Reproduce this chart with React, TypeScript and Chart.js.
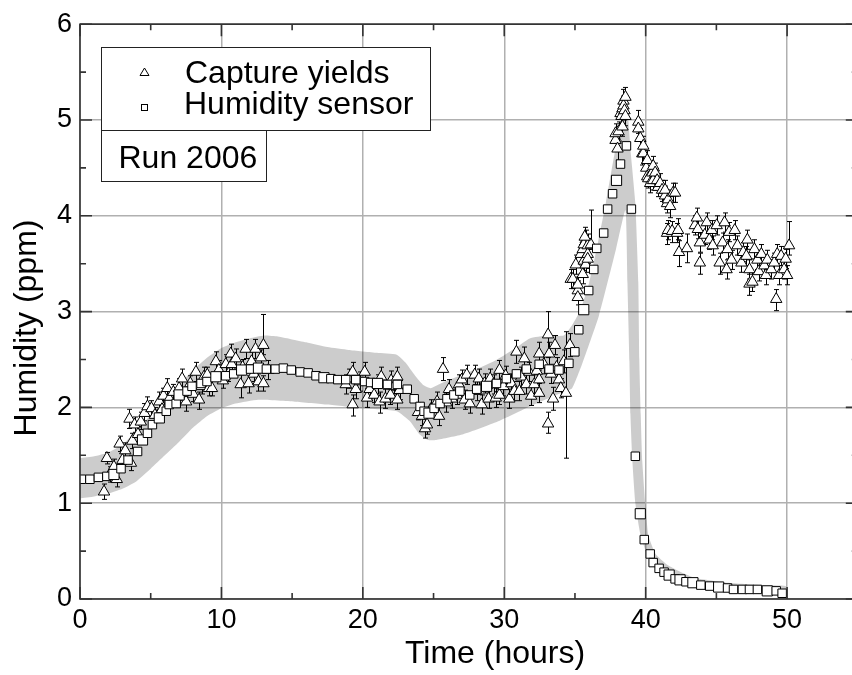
import React, { useEffect, useRef } from 'react';
import { Chart, registerables } from 'chart.js';

Chart.register(...registerables);

// ---------- data ----------
const X_TICKS = [0, 10, 20, 30, 40, 50];
const X_MINOR = [5, 15, 25, 35, 45];
const Y_TICKS = [0, 1, 2, 3, 4, 5, 6];
const Y_MINOR = [0.5, 1.5, 2.5, 3.5, 4.5, 5.5];

// Capture yields: [time, humidity, error down, error up]
const captureYields: number[][] = [
  [1.7, 1.12, 0.08, 0.08], [1.9, 1.47, 0.06, 0.06], [2.1, 1.3, 0.08, 0.08], [2.4, 1.38, 0.08, 0.08],
  [2.6, 1.25, 0.08, 0.08], [2.8, 1.62, 0.08, 0.08], [3.0, 1.45, 0.06, 0.08], [3.2, 1.55, 0.08, 0.08],
  [3.5, 1.88, 0.1, 0.1], [3.6, 1.42, 0.08, 0.08], [3.7, 1.65, 0.08, 0.08], [3.86, 1.82, 0.08, 0.08],
  [4.1, 1.72, 0.08, 0.08], [4.3, 1.85, 0.08, 0.1], [4.56, 1.94, 0.08, 0.1], [4.77, 2.01, 0.1, 0.1],
  [5.05, 1.99, 0.08, 0.08], [5.3, 1.92, 0.08, 0.08], [5.61, 2.06, 0.08, 0.1], [5.8, 1.98, 0.08, 0.08],
  [5.9, 2.12, 0.08, 0.08], [6.17, 2.2, 0.1, 0.1], [6.31, 2.09, 0.08, 0.08], [6.6, 2.16, 0.08, 0.08],
  [6.9, 2.08, 0.08, 0.08], [7.01, 2.2, 0.1, 0.1], [7.22, 2.3, 0.1, 0.1], [7.5, 2.06, 0.1, 0.08],
  [7.6, 2.15, 0.08, 0.08], [7.8, 2.25, 0.08, 0.08], [8.0, 2.14, 0.08, 0.08], [8.2, 2.37, 0.1, 0.1],
  [8.42, 2.08, 0.1, 0.08], [8.6, 2.22, 0.08, 0.08], [8.77, 2.32, 0.08, 0.1], [9.0, 2.34, 0.08, 0.08],
  [9.12, 2.2, 0.08, 0.08], [9.33, 2.2, 0.08, 0.1], [9.61, 2.48, 0.1, 0.1], [9.82, 2.39, 0.08, 0.1],
  [10.1, 2.28, 0.08, 0.08], [10.31, 2.45, 0.1, 0.1], [10.5, 2.35, 0.08, 0.08], [10.66, 2.56, 0.1, 0.1],
  [10.73, 2.45, 0.1, 0.08], [11.01, 2.51, 0.1, 0.1], [11.36, 2.24, 0.14, 0.1], [11.5, 2.42, 0.08, 0.08],
  [11.71, 2.61, 0.1, 0.1], [11.92, 2.25, 0.1, 0.08], [12.13, 2.48, 0.1, 0.1], [12.3, 2.35, 0.08, 0.08],
  [12.41, 2.61, 0.1, 0.1], [12.62, 2.27, 0.1, 0.08], [12.8, 2.52, 0.08, 0.08], [12.97, 2.65, 0.1, 0.32],
  [12.97, 2.25, 0.08, 0.08], [13.32, 2.39, 0.1, 0.1],
  [18.79, 2.24, 0.1, 0.1], [19.0, 2.3, 0.1, 0.1], [19.28, 2.37, 0.1, 0.1], [19.28, 2.03, 0.12, 0.1],
  [19.5, 2.19, 0.1, 0.1], [19.78, 2.27, 0.1, 0.1], [20.13, 2.37, 0.1, 0.1], [20.3, 2.1, 0.1, 0.1],
  [20.48, 2.19, 0.1, 0.1], [20.8, 2.13, 0.08, 0.1], [21.04, 2.24, 0.1, 0.1], [21.18, 2.06, 0.12, 0.1],
  [21.3, 2.32, 0.1, 0.1], [21.6, 2.09, 0.1, 0.1], [21.95, 2.13, 0.1, 0.1], [22.0, 2.28, 0.1, 0.1],
  [22.2, 2.22, 0.08, 0.1], [22.44, 2.32, 0.1, 0.1], [22.44, 2.08, 0.1, 0.1], [22.6, 2.18, 0.1, 0.1],
  [23.9, 1.95, 0.08, 0.1], [24.19, 1.91, 0.1, 0.1], [24.4, 1.78, 0.1, 0.1], [24.54, 1.82, 0.1, 0.1],
  [24.8, 1.98, 0.08, 0.1], [25.25, 2.06, 0.1, 0.1], [25.39, 1.91, 0.1, 0.1], [25.67, 2.4, 0.12, 0.12],
  [25.9, 2.05, 0.1, 0.1], [26.09, 2.19, 0.1, 0.1], [26.3, 2.09, 0.1, 0.1], [26.65, 2.13, 0.1, 0.1],
  [26.8, 2.24, 0.1, 0.1], [27.0, 2.29, 0.1, 0.1], [27.2, 2.08, 0.1, 0.1], [27.35, 2.34, 0.1, 0.1],
  [27.56, 2.04, 0.1, 0.1], [27.91, 2.34, 0.1, 0.1], [28.05, 2.17, 0.1, 0.1], [28.2, 2.3, 0.1, 0.1],
  [28.4, 2.03, 0.1, 0.1], [28.61, 2.25, 0.1, 0.1], [28.89, 2.09, 0.1, 0.1], [29.0, 2.3, 0.1, 0.1],
  [29.24, 2.24, 0.1, 0.1], [29.4, 2.1, 0.1, 0.1], [29.66, 2.39, 0.1, 0.1], [29.66, 2.13, 0.1, 0.1],
  [29.94, 2.22, 0.1, 0.1], [30.1, 2.33, 0.1, 0.1], [30.36, 2.09, 0.1, 0.1], [30.5, 2.25, 0.1, 0.1],
  [30.72, 2.17, 0.1, 0.1], [30.86, 2.58, 0.12, 0.12], [31.07, 2.17, 0.1, 0.1], [31.2, 2.32, 0.1, 0.1],
  [31.42, 2.51, 0.12, 0.12], [31.56, 2.24, 0.1, 0.1], [31.77, 2.37, 0.1, 0.1], [31.9, 2.12, 0.1, 0.1],
  [32.12, 2.24, 0.1, 0.1], [32.3, 2.38, 0.1, 0.1], [32.47, 2.15, 0.1, 0.1], [32.47, 2.56, 0.12, 0.12],
  [32.47, 2.29, 0.1, 0.1], [32.8, 2.45, 0.1, 0.1], [33.1, 2.76, 0.24, 0.24], [33.1, 1.83, 0.1, 0.12],
  [33.17, 2.56, 0.12, 0.12], [33.3, 2.35, 0.1, 0.1], [33.45, 2.09, 0.12, 0.12], [33.59, 2.65, 0.1, 0.1],
  [33.7, 2.42, 0.1, 0.1], [33.87, 2.29, 0.1, 0.1], [34.0, 2.2, 0.1, 0.1], [34.22, 2.48, 0.12, 0.12],
  [34.36, 2.15, 0.68, 0.64], [34.64, 2.65, 0.12, 0.12],
  [34.7, 3.34, 0.1, 0.1], [34.85, 3.34, 0.1, 0.1], [35.06, 3.49, 0.1, 0.1], [35.2, 3.22, 0.08, 0.1],
  [35.2, 3.28, 0.08, 0.08], [35.2, 3.15, 0.08, 0.08], [35.41, 3.6, 0.1, 0.1], [35.55, 3.39, 0.1, 0.1],
  [35.55, 3.65, 0.1, 0.1], [35.62, 3.53, 0.1, 0.1], [35.76, 3.49, 0.08, 0.1], [35.76, 3.75, 0.1, 0.1],
  [35.9, 3.6, 0.1, 0.1], [35.9, 3.55, 0.1, 0.1], [35.62, 3.7, 0.1, 0.1], [35.9, 3.69, 0.1, 0.12],
  [36.12, 3.7, 0.05, 0.36], [35.69, 3.78, 0.1, 0.1],
  [37.87, 4.79, 0.1, 0.1], [37.87, 4.86, 0.1, 0.1], [38.01, 4.7, 0.12, 0.1], [38.08, 4.88, 0.1, 0.1],
  [38.22, 5.07, 0.1, 0.1], [38.29, 5.04, 0.12, 0.1], [38.36, 5.12, 0.1, 0.1], [38.36, 4.93, 0.1, 0.1],
  [38.43, 5.2, 0.1, 0.12], [38.43, 5.15, 0.1, 0.1], [38.5, 5.1, 0.1, 0.1], [38.57, 5.24, 0.1, 0.1],
  [38.57, 5.04, 0.1, 0.1],
  [39.48, 4.98, 0.12, 0.12], [39.48, 4.91, 0.1, 0.1], [39.62, 4.81, 0.1, 0.1], [39.76, 4.65, 0.12, 0.1],
  [39.83, 4.65, 0.1, 0.1], [39.83, 4.73, 0.1, 0.1], [40.04, 4.5, 0.1, 0.1], [40.11, 4.41, 0.1, 0.1],
  [40.11, 4.58, 0.1, 0.1], [40.18, 4.39, 0.1, 0.1], [40.32, 4.34, 0.1, 0.1], [40.46, 4.45, 0.1, 0.1],
  [40.53, 4.37, 0.1, 0.1], [40.53, 4.52, 0.1, 0.1], [40.67, 4.45, 0.1, 0.1], [40.81, 4.37, 0.1, 0.1],
  [40.88, 4.3, 0.1, 0.1], [41.02, 4.34, 0.1, 0.1], [41.16, 4.27, 0.12, 0.1], [41.37, 4.21, 0.1, 0.1],
  [41.37, 4.27, 0.1, 0.1], [41.51, 4.13, 0.1, 0.1], [41.58, 4.17, 0.1, 0.1], [41.73, 4.1, 0.12, 0.1],
  [41.94, 4.24, 0.1, 0.1], [42.08, 4.24, 0.1, 0.1], [41.51, 3.82, 0.12, 0.1], [41.58, 3.85, 0.1, 0.1],
  [41.87, 3.84, 0.12, 0.1], [42.22, 3.82, 0.1, 0.1], [42.29, 3.85, 0.1, 0.12], [42.36, 3.62, 0.15, 0.12],
  [42.92, 3.66, 0.15, 0.15],
  [43.48, 3.9, 0.1, 0.1], [43.62, 3.98, 0.1, 0.1], [43.69, 3.86, 0.1, 0.1], [43.83, 3.72, 0.1, 0.1],
  [43.83, 3.51, 0.12, 0.1], [44.18, 3.8, 0.1, 0.1], [44.32, 3.93, 0.1, 0.1], [44.5, 3.75, 0.1, 0.1],
  [44.67, 3.85, 0.1, 0.1], [44.74, 3.69, 0.1, 0.1], [45.02, 3.9, 0.1, 0.1], [45.23, 3.51, 0.12, 0.1],
  [45.44, 3.72, 0.1, 0.1], [45.58, 3.93, 0.1, 0.1], [45.72, 3.44, 0.1, 0.1], [45.79, 3.65, 0.1, 0.1],
  [45.9, 3.83, 0.1, 0.1], [46.07, 3.54, 0.1, 0.1], [46.3, 3.85, 0.1, 0.1], [46.49, 3.69, 0.1, 0.1],
  [46.77, 3.51, 0.1, 0.1], [46.9, 3.62, 0.1, 0.1], [47.12, 3.58, 0.1, 0.1], [47.19, 3.75, 0.1, 0.1],
  [47.34, 3.44, 0.1, 0.1], [47.34, 3.29, 0.12, 0.1], [47.55, 3.31, 0.1, 0.1], [47.69, 3.65, 0.1, 0.1],
  [47.9, 3.54, 0.1, 0.1], [48.0, 3.42, 0.1, 0.1], [48.18, 3.6, 0.1, 0.1], [48.39, 3.48, 0.1, 0.1],
  [48.5, 3.38, 0.1, 0.1], [48.6, 3.54, 0.1, 0.1], [48.88, 3.44, 0.1, 0.1], [49.09, 3.51, 0.1, 0.1],
  [49.23, 3.13, 0.12, 0.1], [49.3, 3.6, 0.1, 0.1], [49.44, 3.38, 0.1, 0.1], [49.58, 3.58, 0.1, 0.1],
  [49.79, 3.44, 0.1, 0.1], [49.9, 3.55, 0.1, 0.1], [50.0, 3.38, 0.1, 0.1], [50.14, 3.69, 0.1, 0.25],
];

// Humidity sensor: [time, humidity]
const humiditySensor: number[][] = [
  [0.1, 1.25], [0.7, 1.25], [1.3, 1.27], [1.9, 1.28], [2.4, 1.3], [2.9, 1.36], [3.4, 1.45],
  [4.07, 1.54], [4.42, 1.66], [4.77, 1.73], [5.12, 1.82], [5.61, 1.89], [6.1, 1.96], [6.31, 2.03],
  [6.8, 2.04], [7.01, 2.13], [7.57, 2.17], [7.92, 2.22], [8.56, 2.25], [8.98, 2.27], [9.61, 2.32],
  [10.31, 2.33], [10.87, 2.35], [11.43, 2.39], [12.06, 2.4], [12.62, 2.41], [13.18, 2.4], [13.81, 2.4],
  [14.38, 2.41], [14.94, 2.39], [15.57, 2.37], [16.13, 2.36], [16.69, 2.33], [17.25, 2.31], [17.74, 2.3],
  [18.23, 2.29], [18.79, 2.29], [19.5, 2.29], [20.13, 2.27], [20.55, 2.26], [21.04, 2.25], [21.74, 2.24],
  [22.44, 2.24], [23.14, 2.19], [23.63, 2.09], [24.05, 2.01], [24.33, 1.96], [24.68, 1.94], [25.04, 1.99],
  [25.46, 2.04], [25.95, 2.09], [26.44, 2.13], [26.86, 2.17], [27.56, 2.13], [28.05, 2.19], [28.75, 2.22],
  [29.45, 2.25], [30.15, 2.3], [30.86, 2.35], [31.56, 2.4], [32.47, 2.45], [33.17, 2.4], [33.87, 2.39],
  [34.57, 2.46], [34.99, 2.58], [35.27, 2.81], [35.62, 3.02], [35.97, 3.22], [36.33, 3.44], [36.54, 3.66],
  [37.03, 3.82], [37.31, 4.07], [37.66, 4.23], [37.94, 4.37], [38.22, 4.54], [38.64, 4.73], [38.99, 4.07],
  [39.27, 1.49], [39.62, 0.89], [39.9, 0.62], [40.32, 0.47], [40.53, 0.38], [40.95, 0.32], [41.3, 0.28],
  [41.66, 0.25], [42.08, 0.21], [42.43, 0.2], [42.85, 0.18], [43.34, 0.17], [43.9, 0.145], [44.53, 0.135],
  [45.16, 0.125], [45.79, 0.115], [46.21, 0.1], [46.84, 0.1], [47.34, 0.1], [47.9, 0.1], [48.6, 0.085],
  [49.23, 0.085], [49.65, 0.06],
];
// indices of the larger sensor squares (style)
const SENSOR_LARGE = [4, 8, 11, 15, 20, 23, 25, 33, 40, 47, 55, 66, 73, 78, 84, 86, 88, 91, 97];

// Model band edges: [time, humidity]
const bandUpper: number[][] = [
  [0, 1.47], [1, 1.49], [2, 1.53], [3, 1.61], [4, 1.76], [5, 1.92], [6, 2.08], [7, 2.24], [8, 2.39],
  [9, 2.52], [10, 2.62], [11, 2.68], [12, 2.72], [13, 2.75], [14, 2.74], [15, 2.71], [16, 2.68],
  [17.5, 2.63], [19, 2.6], [21, 2.57], [22.4, 2.55], [23, 2.47], [23.7, 2.33], [24.3, 2.23], [24.8, 2.2],
  [25.5, 2.25], [27, 2.34], [28.5, 2.43], [29.5, 2.5], [30.8, 2.62], [31.8, 2.72], [33, 2.75], [34.2, 2.75],
  [34.8, 2.86], [35.4, 3.02], [36, 3.3], [36.6, 3.7], [37.2, 4.15], [37.8, 4.65], [38.3, 5.02], [38.65, 5.2],
  [38.95, 4.65], [39.27, 4.13], [39.48, 3.3], [39.55, 2.5], [39.65, 1.93], [39.76, 1.44], [39.97, 1.0],
  [40.2, 0.66], [40.7, 0.47], [41.5, 0.36], [42.5, 0.28], [43.5, 0.22], [45.8, 0.17], [48.2, 0.145],
  [49.9, 0.135],
];
const bandLower: number[][] = [
  [0, 1.05], [1, 1.07], [2, 1.1], [3, 1.15], [4, 1.23], [5, 1.36], [6, 1.5], [7, 1.64], [8, 1.79],
  [9, 1.91], [10, 1.99], [11, 2.04], [12.6, 2.08], [15.2, 2.06], [17.5, 2.03], [20, 1.99], [22.4, 1.96],
  [23.3, 1.86], [24, 1.72], [24.6, 1.66], [25.2, 1.66], [27.1, 1.72], [29.5, 1.85], [31.8, 2.01],
  [33.2, 2.1], [34.2, 2.16], [34.8, 2.2], [35.5, 2.45], [36.7, 2.96], [37.9, 3.65], [38.57, 4.06],
  [38.71, 3.3], [38.85, 2.48], [38.92, 1.93], [39.06, 1.44], [39.27, 1.0], [39.62, 0.68], [40.0, 0.5],
  [40.46, 0.36], [41.0, 0.26], [42.0, 0.17], [43.5, 0.12], [45.8, 0.1], [49.9, 0.08],
];

const X_TITLE = 'Time (hours)';
const Y_TITLE = 'Humidity (ppm)';
const RUN_LABEL = 'Run 2006';

// ---------- styling ----------
const FONT = "'Liberation Sans', Arial, Helvetica, sans-serif";
const INK = '#000';
const FRAME = '#333';

const errorBars = {
  id: 'errorBars',
  beforeDatasetDraw(chart: any, args: any) {
    const ds = chart.data.datasets[args.index];
    if (!ds.errors) return;
    const { ctx, scales } = chart;
    const xs = scales.x, ys = scales.y;
    ctx.save();
    ctx.beginPath();
    ctx.rect(chart.chartArea.left, chart.chartArea.top, chart.chartArea.width, chart.chartArea.height);
    ctx.clip();
    ctx.strokeStyle = INK;
    ctx.lineWidth = 1;
    ctx.beginPath();
    ds.errors.forEach((e: number[]) => {
      const px = Math.round(xs.getPixelForValue(e[0])) + 0.5;
      const lo = ys.getPixelForValue(e[1] - e[2]);
      const hi = ys.getPixelForValue(e[1] + e[3]);
      ctx.moveTo(px, lo); ctx.lineTo(px, hi);
      ctx.moveTo(px - 2.5, hi); ctx.lineTo(px + 2.5, hi);
      ctx.moveTo(px - 2.5, lo); ctx.lineTo(px + 2.5, lo);
    });
    ctx.stroke();
    ctx.restore();
  },
};

const frame = {
  id: 'frame',
  afterDraw(chart: any) {
    const { ctx, chartArea: a, scales } = chart;
    const xs = scales.x, ys = scales.y;
    ctx.save();
    ctx.strokeStyle = FRAME;
    ctx.lineWidth = 1.6;
    ctx.strokeRect(a.left, a.top, a.right - a.left, a.bottom - a.top);
    ctx.beginPath();
    const tick = (vals: number[], len: number) => {
      vals.forEach((v) => {
        const px = xs.getPixelForValue(v);
        ctx.moveTo(px, a.bottom); ctx.lineTo(px, a.bottom - len);
        ctx.moveTo(px, a.top); ctx.lineTo(px, a.top + len);
      });
    };
    const ytick = (vals: number[], len: number) => {
      vals.forEach((v) => {
        const py = ys.getPixelForValue(v);
        ctx.moveTo(a.left, py); ctx.lineTo(a.left + len, py);
        ctx.moveTo(a.right, py); ctx.lineTo(a.right - len, py);
      });
    };
    tick(X_TICKS, 12); tick(X_MINOR, 6);
    ytick(Y_TICKS, 12); ytick(Y_MINOR, 6);
    ctx.stroke();

    // axis titles
    ctx.fillStyle = INK;
    ctx.font = `32px ${FONT}`;
    ctx.textAlign = 'center';
    ctx.textBaseline = 'alphabetic';
    ctx.fillText(X_TITLE, 495, 663);
    ctx.save();
    ctx.translate(36, 328);
    ctx.rotate(-Math.PI / 2);
    ctx.fillText(Y_TITLE, 0, 0);
    ctx.restore();

    // legend box
    const ds = chart.data.datasets;
    ctx.fillStyle = '#fff';
    ctx.strokeStyle = '#222';
    ctx.lineWidth = 1;
    ctx.fillRect(101, 47, 330, 83);
    ctx.strokeRect(101.5, 47.5, 329, 83);
    ctx.fillRect(101, 130, 166, 52);
    ctx.strokeRect(101.5, 130.5, 165, 51);
    // markers
    ctx.lineWidth = 1;
    ctx.strokeStyle = INK;
    ctx.fillStyle = '#fff';
    ctx.beginPath();
    ctx.moveTo(144.5, 68); ctx.lineTo(149, 75.5); ctx.lineTo(140, 75.5); ctx.closePath();
    ctx.fill(); ctx.stroke();
    ctx.fillRect(141, 104.5, 6, 6);
    ctx.strokeRect(141.5, 104.5, 6, 6);
    ctx.fillStyle = INK;
    ctx.textAlign = 'left';
    ctx.font = `32px ${FONT}`;
    ctx.fillText(ds[0].label, 185, 83);
    ctx.fillText(ds[1].label, 184, 114);
    ctx.fillText(RUN_LABEL, 118.5, 168);
    ctx.restore();
  },
};

export default function App() {
  const ref = useRef<HTMLCanvasElement | null>(null);
  useEffect(() => {
    if (!ref.current) return;
    Chart.defaults.font.family = FONT;
    const bandShape = [...bandUpper, ...[...bandLower].reverse()].map(([x, y]) => ({ x, y }));
    const chart = new Chart(ref.current, {
      type: 'scatter',
      data: {
        datasets: [
          {
            label: 'Capture yields',
            data: captureYields.map(([x, y]) => ({ x, y })),
            errors: captureYields,
            pointStyle: 'triangle',
            pointRadius: 6.6,
            pointBackgroundColor: '#fff',
            pointBorderColor: INK,
            pointBorderWidth: 1,
            order: 2,
          } as any,
          {
            label: 'Humidity sensor',
            data: humiditySensor.map(([x, y]) => ({ x, y })),
            pointStyle: 'rect',
            pointRadius: humiditySensor.map((_, i) => (SENSOR_LARGE.includes(i) ? 7.2 : 6)),
            pointBackgroundColor: '#fff',
            pointBorderColor: INK,
            pointBorderWidth: 1,
            order: 1,
          },
          {
            label: 'band',
            data: bandShape,
            showLine: true,
            fill: 'shape',
            tension: 0.15,
            backgroundColor: 'rgba(0,0,0,0.2)',
            borderColor: 'rgba(0,0,0,0)',
            borderWidth: 0,
            pointRadius: 0,
            order: 3,
          },
        ],
      },
      options: {
        responsive: false,
        animation: false,
        devicePixelRatio: 1,
        events: [],
        layout: { padding: { left: 0, top: 20, right: 2, bottom: 0 } },
        plugins: { legend: { display: false }, tooltip: { enabled: false } },
        scales: {
          x: {
            type: 'linear',
            min: 0,
            max: 55,
            afterFit: (s: any) => { s.height = 76; },
            grid: { color: '#b0b0b0', lineWidth: 1.5, drawTicks: false },
            border: { display: false },
            ticks: {
              stepSize: 10,
              includeBounds: false,
              padding: 5,
              color: INK,
              font: { size: 27, family: FONT },
              maxRotation: 0,
            },
          },
          y: {
            type: 'linear',
            min: 0,
            max: 6,
            afterFit: (s: any) => { s.width = 80; },
            grid: { color: '#b0b0b0', lineWidth: 1.5, drawTicks: false },
            border: { display: false },
            ticks: {
              stepSize: 1,
              padding: 8,
              color: INK,
              font: { size: 27, family: FONT },
            },
          },
        },
      },
      plugins: [errorBars, frame],
    } as any);
    return () => chart.destroy();
  }, []);
  return (
    <div style={{ position: 'absolute', left: 0, top: 0, width: 852, height: 675, overflow: 'hidden', background: '#fff' }}>
      <canvas ref={ref} width={866} height={675} style={{ display: 'block' }} />
    </div>
  );
}
